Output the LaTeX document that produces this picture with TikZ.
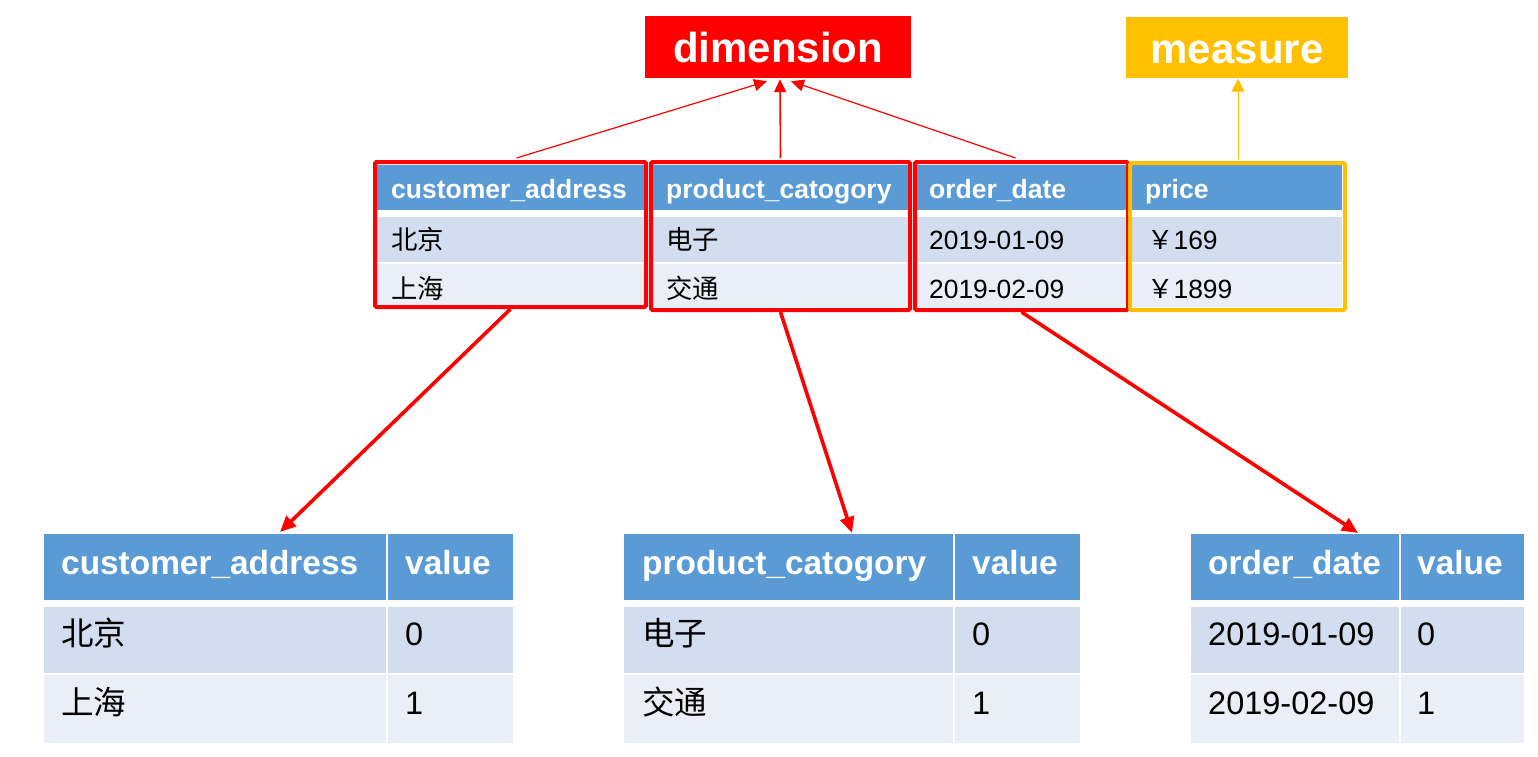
\documentclass[tikz,border=0pt]{standalone}
\usepackage{fontspec}
\setmainfont{Liberation Sans}
\newfontfamily\cjk{Noto Sans CJK SC}
\usetikzlibrary{arrows.meta,calc}
\definecolor{hblue}{HTML}{5B9BD5}
\definecolor{rowA}{HTML}{D2DEEF}
\definecolor{rowB}{HTML}{EAEFF7}
\definecolor{myred}{HTML}{FF0000}
\definecolor{myyellow}{HTML}{FFC000}
\begin{document}
\begin{tikzpicture}[x=1pt,y=-1pt,
  thdr/.style={anchor=base west,inner sep=0,text=white,font=\bfseries\fontsize{26.5}{30}\selectfont},
  tbody/.style={anchor=base west,inner sep=0,text=black,font=\fontsize{26.4}{30}\selectfont},
  bhdr/.style={anchor=base west,inner sep=0,text=white,font=\bfseries\fontsize{33.4}{38}\selectfont},
  bbody/.style={anchor=base west,inner sep=0,text=black,font=\fontsize{32.5}{38}\selectfont},
  selbox/.style={draw=myred,line width=4,rounded corners=1.5,inner sep=0},
  measbox/.style={draw=myyellow,line width=4,rounded corners=1.5,inner sep=0},
  lbl/.style={inner sep=0,text=white,text height=31,text depth=0,font=\bfseries\fontsize{42}{46}\selectfont},
  thin/.style={draw=myred,line width=1.2,-{Triangle[length=13,width=12]}},
  thick/.style={draw=myred,line width=3.6,-{Triangle[length=16,width=14]}},
  ythin/.style={draw=myyellow,line width=1,-{Triangle[length=13,width=13]}}
]
\useasboundingbox[fill=white] (0,0) rectangle (1538,756);

% ---------- top table ----------
\foreach \a/\b in {376/646,652/908,915/1126,1132/1342}{
  \fill[hblue] (\a,165) rectangle (\b,210);
  \fill[rowA] (\a,217) rectangle (\b,262);
  \fill[rowB] (\a,264) rectangle (\b,307);
}
\node[thdr] (h1) at (391,198) {customer\_address};
\node[thdr] (h2) at (666,198) {product\_catogory};
\node[thdr] (h3) at (929,198) {order\_date};
\node[thdr] (h4) at (1145,198) {price};
\node[tbody] (r11) at (391,249) {\cjk 北京};
\node[tbody] (r12) at (666,249) {\cjk 电子};
\node[tbody] (r13) at (929,249) {2019-01-09};
\node[tbody] (r14) at (1147,249) {{\cjk ￥}169};
\node[tbody] (r21) at (391,298) {\cjk 上海};
\node[tbody] (r22) at (666,298) {\cjk 交通};
\node[tbody] (r23) at (929,298) {2019-02-09};
\node[tbody] (r24) at (1147,298) {{\cjk ￥}1899};

\node[selbox,minimum width=271,minimum height=145] (b1) at (510.5,234.5) {};
\node[selbox,minimum width=259,minimum height=148] (b2) at (780.5,236) {};
\node[selbox,minimum width=213,minimum height=148] (b3) at (1021.5,236) {};
\node[measbox,minimum width=215,minimum height=147] (b4) at (1237.5,236.5) {};

% ---------- labels ----------
\node[lbl,fill=myred,minimum width=266,minimum height=62] (dim) at (778,47) {dimension};
\node[lbl,fill=myyellow,minimum width=222,minimum height=61] (meas) at (1237,47.5) {measure};

\draw[thin] ($(b1.north)+(6,-2)$) -- ($(dim.south)+(-11,3)$);
\draw[thin,line width=1.6] ($(b2.north)+(0,-2)$) -- ($(dim.south)+(2,1)$);
\draw[thin] ($(b3.north)+(-6,-2)$) -- ($(dim.south)+(13,3)$);
\draw[ythin] ($(b4.north)+(0.5,-2)$) -- ($(meas.south)+(1,0.5)$);

% ---------- bottom tables ----------
\foreach \a/\b/\c/\d in {44/386/388/513, 624/953/955/1080, 1191/1399/1401/1524}{
  \fill[hblue] (\a,534) rectangle (\b,600);
  \fill[hblue] (\c,534) rectangle (\d,600);
  \fill[rowA] (\a,607) rectangle (\b,673);
  \fill[rowA] (\c,607) rectangle (\d,673);
  \fill[rowB] (\a,675) rectangle (\b,743);
  \fill[rowB] (\c,675) rectangle (\d,743);
}
\node[bhdr] (t1h) at (61,574) {customer\_address};
\node[bhdr] (t1v) at (405,574) {value};
\node[bbody] (t1a) at (61,645) {\cjk 北京};
\node[bbody] (t1b) at (405,645) {0};
\node[bbody] (t1c) at (61,714) {\cjk 上海};
\node[bbody] (t1d) at (405,714) {1};

\node[bhdr] (t2h) at (642,574) {product\_catogory};
\node[bhdr] (t2v) at (972,574) {value};
\node[bbody] (t2a) at (642,645) {\cjk 电子};
\node[bbody] (t2b) at (972,645) {0};
\node[bbody] (t2c) at (642,714) {\cjk 交通};
\node[bbody] (t2d) at (972,714) {1};

\node[bhdr] (t3h) at (1208,574) {order\_date};
\node[bhdr] (t3v) at (1417,574) {value};
\node[bbody] (t3a) at (1208,645) {2019-01-09};
\node[bbody] (t3b) at (1417,645) {0};
\node[bbody] (t3c) at (1208,714) {2019-02-09};
\node[bbody] (t3d) at (1417,714) {1};

\coordinate (e1) at (280,532);
\coordinate (e2) at (852,533);
\coordinate (e3) at (1358,533);
\draw[thick] (b1.south) -- (e1);
\draw[thick] (b2.south) -- (e2);
\draw[thick] (b3.south) -- (e3);
\end{tikzpicture}
\end{document}
